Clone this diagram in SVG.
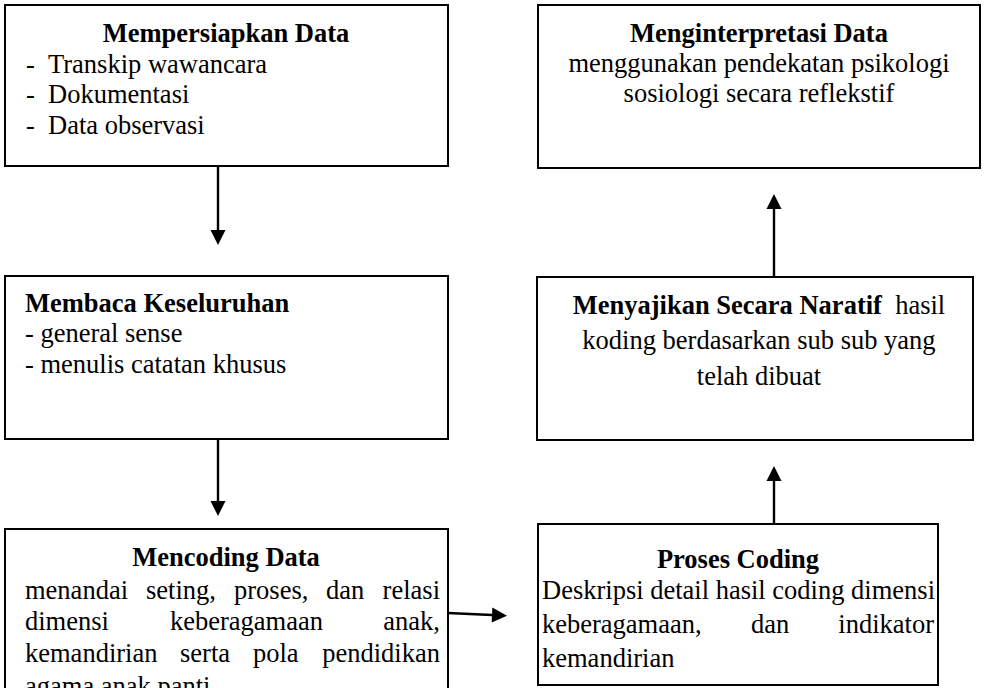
<svg xmlns="http://www.w3.org/2000/svg" width="985" height="688" viewBox="0 0 985 688">
<style>
.box{fill:#fff;stroke:#000;stroke-width:2}
text{font-family:"Liberation Serif","Times New Roman",serif;font-size:26.5px;fill:#000}
.b{font-weight:bold}
.m{text-anchor:middle}
.e{text-anchor:end}
.c{stroke:#000;stroke-width:2.4;fill:none;marker-end:url(#ah)}
</style>
<defs>
<marker id="ah" markerUnits="userSpaceOnUse" markerWidth="16" markerHeight="16" refX="0" refY="7.5" orient="auto" overflow="visible">
<path d="M0,0 L15,7.5 L0,15 Z" fill="#000"/>
</marker>
</defs>
<rect width="985" height="688" fill="#fff"/>
<g id="connectors">
<line class="c" x1="218" y1="167" x2="218" y2="230"/>
<line class="c" x1="218" y1="440" x2="218" y2="501"/>
<line class="c" x1="448" y1="613" x2="492" y2="615"/>
<line class="c" x1="774" y1="524" x2="774" y2="481"/>
<line class="c" x1="774" y1="277" x2="774" y2="209"/>
</g>
<g id="mempersiapkan">
<rect class="box" x="5" y="5" width="443" height="161"/>
<text class="b m" x="226" y="42">Mempersiapkan Data</text>
<text x="26" y="73">-</text><text x="48" y="73">Transkip wawancara</text>
<text x="26" y="103">-</text><text x="48" y="103">Dokumentasi</text>
<text x="26" y="134">-</text><text x="48" y="134">Data observasi</text>
</g>
<g id="menginterpretasi">
<rect class="box" x="538" y="5" width="442" height="163"/>
<text class="b m" x="759" y="42">Menginterpretasi Data</text>
<text class="m" x="759" y="72">menggunakan pendekatan psikologi</text>
<text class="m" x="759" y="102">sosiologi secara reflekstif</text>
</g>
<g id="membaca">
<rect class="box" x="5" y="276" width="443" height="163"/>
<text class="b" x="25" y="312">Membaca Keseluruhan</text>
<text x="25" y="342">- general sense</text>
<text x="25" y="373">- menulis catatan khusus</text>
</g>
<g id="menyajikan">
<rect class="box" x="537" y="277" width="436" height="163"/>
<text class="m" x="759" y="314"><tspan class="b">Menyajikan Secara Naratif</tspan>&#160; hasil</text>
<text class="m" x="759" y="349">koding berdasarkan sub sub yang</text>
<text class="m" x="759" y="385">telah dibuat</text>
</g>
<g id="mencoding">
<rect class="box" x="5" y="529" width="443" height="200"/>
<text class="b m" x="226" y="566">Mencoding Data</text>
<text x="25" y="599">menandai</text><text x="146" y="599">seting,</text><text x="234" y="599">proses,</text><text x="326" y="599">dan</text><text class="e" x="440" y="599">relasi</text>
<text x="25" y="630">dimensi</text><text x="170" y="630">keberagamaan</text><text class="e" x="440" y="630">anak,</text>
<text x="25" y="662">kemandirian</text><text x="180" y="662">serta</text><text x="253" y="662">pola</text><text class="e" x="440" y="662">pendidikan</text>
<text x="25" y="695">agama anak panti</text>
</g>
<g id="proses">
<rect class="box" x="538" y="524" width="400" height="161"/>
<text class="b m" x="738" y="568">Proses Coding</text>
<text x="542" y="599">Deskripsi detail hasil coding dimensi</text>
<text x="542" y="633">keberagamaan,</text><text x="751" y="633">dan</text><text class="e" x="934" y="633">indikator</text>
<text x="542" y="667">kemandirian</text>
</g>
</svg>
